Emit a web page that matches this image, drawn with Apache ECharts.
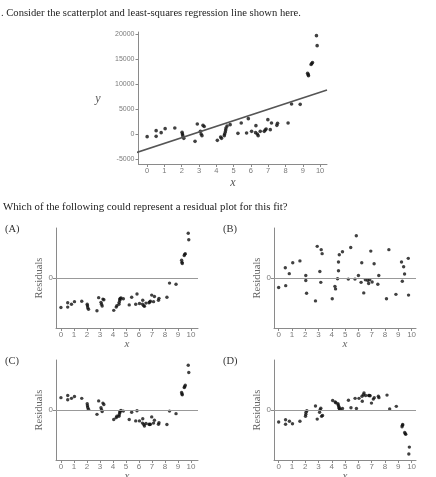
<!DOCTYPE html>
<html>
<head>
<meta charset="utf-8">
<script src="https://cdn.jsdelivr.net/npm/echarts@6/dist/echarts.min.js"></script>
<style>
html, body { margin: 0; padding: 0; background: #fff; }
#chart { width: 436px; height: 477px; }
</style>
</head>
<body>
<div id="chart"></div>
<script>
var titleLine = '. Consider the scatterplot and least-squares regression line shown here.';
var questionLine = 'Which of the following could represent a residual plot for this fit?';
var panelNames = ['(A)', '(B)', '(C)', '(D)'];

var xTicks = [0, 1, 2, 3, 4, 5, 6, 7, 8, 9, 10];
var yTicks = [-5000, 0, 5000, 10000, 15000, 20000];

// scatterplot data, also the x of residual plots A, C, D
var xValues = [0, 0.52, 0.52, 0.81, 1.04, 1.6, 2.02, 2.04, 2.06, 2.12, 2.77, 2.9, 3.08, 3.12, 3.17, 3.23, 3.3,
    4.06, 4.25, 4.3, 4.46, 4.48, 4.52, 4.54, 4.56, 4.62, 4.8, 5.25, 5.44, 5.75, 5.85, 6.04, 6.27, 6.29, 6.37,
    6.42, 6.54, 6.77, 6.83, 6.88, 6.98, 7.12, 7.19, 7.5, 7.54, 8.15, 8.35, 8.85, 9.28, 9.31, 9.33, 9.48, 9.52,
    9.56, 9.79, 9.83];
var yValues = [-530, 670, -470, 270, 1070, 1200, 330, 0, -330, -870, -1470, 2000, 530, 0, -330, 1730, 1500,
    -1270, -600, -870, -330, 0, 400, 800, 1200, 1600, 1870, 130, 2200, 200, 3070, 530, 270, 1670, 0,
    -330, 530, 530, 800, 1000, 2870, 870, 2200, 1730, 2130, 2200, 6000, 5930, 12130, 11870, 11670, 13900, 14100,
    14300, 19670, 17670];

var lineIntercept = -3000;
var lineSlope = 1135;
var lineRange = [-0.9, 10.4];

var residA = [-8100, -6800, -8000, -7200, -6500, -6400, -7200, -7600, -8200, -8600, -9000, -5400, -6700, -7200,
    -7700, -5800, -6000, -8900, -8000, -7600, -7200, -6700, -6100, -5800, -5600, -5500, -5700, -7400, -5300,
    -7200, -4400, -7000, -7200, -6100, -7600, -7800, -6900, -6800, -6600, -6400, -4700, -6500, -5100, -6100,
    -5600, -5300, -1400, -1700, 4900, 4300, 4000, 6200, 6500, 6700, 12300, 10500];
var residC = [3400, 4000, 2800, 3200, 3700, 3200, 1700, 1200, 700, 200, -1200, 2500, 600, 100, -400, 1900, 1500,
    -2600, -2100, -1700, -1700, -1300, -800, -500, -300, -100, -300, -2600, -600, -3000, -200, -3000, -3600,
    -2400, -4000, -4400, -3700, -3900, -4000, -3900, -1900, -3600, -2800, -3900, -3500, -4000, -300, -1000,
    4800, 4400, 4200, 6200, 6400, 6800, 12300, 10300];
var residD = [-3300, -3900, -2700, -3100, -3800, -3100, -1700, -1200, -600, -200, 1100, -2500, -600, 100, 500,
    -1700, -1500, 2600, 2200, 2000, 1700, 1400, 1000, 600, 400, 200, 400, 2700, 600, 3200, 400, 3200, 3800,
    2400, 4200, 4700, 4000, 4000, 4000, 3900, 1900, 3000, 3400, 3800, 3400, 4100, 300, 1000, -4600, -4200,
    -4000, -6200, -6500, -6700, -12100, -10200];

var xB = [0, 0.5, 0.53, 0.8, 1.06, 1.6, 2.04, 2.04, 2.1, 2.77, 2.9, 3.1, 3.17, 3.2, 3.27, 4.03, 4.23, 4.28,
    4.43, 4.5, 4.5, 4.56, 4.8, 5.24, 5.42, 5.74, 5.84, 6.0, 6.2, 6.25, 6.4, 6.52, 6.7, 6.77, 6.85, 6.93, 7.03,
    7.18, 7.46, 7.53, 8.11, 8.29, 8.82, 9.24, 9.3, 9.4, 9.47, 9.75, 9.77];
var residB = [-2600, 2800, -2100, 1200, 4200, 4700, 700, -700, -4200, -6300, 8700, 1800, -1200, 7800, 6700,
    -5700, -2300, -3000, -200, 2000, 4400, 6400, 7200, -300, 8400, -300, 11600, 700, -1200, 4200, -4100, -500,
    -700, -1500, -500, 7400, -1100, 3900, -1700, 700, -5700, 7800, -4500, 4400, -900, 3100, 1100, 5400, -4700];

var serif = '"Liberation Serif", "DejaVu Serif", serif';
var sans = '"Liberation Sans", Arial, sans-serif';
var axisGray = '#8a8a8a';
var labelGray = '#7a7a7a';

function pairs(xs, ys) {
    return xs.map(function(x, i) { return [x, ys[i]]; });
}

function plain(v) {
    return String(v);
}

var lineData = lineRange.map(function(x) { return [x, lineIntercept + lineSlope * x]; });

// one residual panel: grid position and x range
var panels = [
    {left: 56, top: 228, xmin: -0.38, xmax: 10.54, x: xValues, r: residA},
    {left: 274, top: 228, xmin: -0.35, xmax: 10.33, x: xB, r: residB},
    {left: 56, top: 360, xmin: -0.38, xmax: 10.54, x: xValues, r: residC},
    {left: 274, top: 360, xmin: -0.35, xmax: 10.33, x: xValues, r: residD}
];

var option = {
    animation: false,
    grid: [{left: 138.5, top: 32, width: 188.5, height: 132}],
    xAxis: [{
        type: 'value', gridIndex: 0, min: -0.5, max: 10.4,
        axisLine: {onZero: false, lineStyle: {color: axisGray}},
        axisTick: {customValues: xTicks, length: 3, lineStyle: {color: axisGray}},
        axisLabel: {customValues: xTicks, fontSize: 7.5, color: labelGray, fontFamily: sans, margin: 3},
        splitLine: {show: false}
    }],
    yAxis: [{
        type: 'value', gridIndex: 0, min: -6000, max: 20400,
        axisLine: {show: true, onZero: false, lineStyle: {color: axisGray}},
        axisTick: {show: true, customValues: yTicks, length: 3, lineStyle: {color: axisGray}},
        axisLabel: {customValues: yTicks, formatter: plain, fontSize: 7, color: labelGray, fontFamily: sans, margin: 4},
        splitLine: {show: false}
    }],
    series: [{
        type: 'scatter', xAxisIndex: 0, yAxisIndex: 0,
        symbolSize: 3.6,
        itemStyle: {color: '#111'},
        data: pairs(xValues, yValues)
    }, {
        type: 'line', xAxisIndex: 0, yAxisIndex: 0,
        symbol: 'none', clip: false,
        lineStyle: {color: '#555', width: 1.6},
        data: lineData
    }],
    graphic: []
};

panels.forEach(function(p, idx) {
    var gi = idx + 1;
    option.grid.push({left: p.left, top: p.top, width: 142, height: 100});
    option.xAxis.push({
        type: 'value', gridIndex: gi, min: p.xmin, max: p.xmax,
        axisLine: {onZero: false, lineStyle: {color: axisGray}},
        axisTick: {customValues: xTicks, length: 3, lineStyle: {color: axisGray}},
        axisLabel: {customValues: xTicks, fontSize: 8, color: labelGray, fontFamily: sans, margin: 3},
        splitLine: {show: false}
    });
    option.yAxis.push({
        type: 'value', gridIndex: gi, min: -13750, max: 13750,
        axisLine: {show: true, onZero: false, lineStyle: {color: axisGray}},
        axisTick: {show: true, customValues: [0], length: 3, lineStyle: {color: axisGray}},
        axisLabel: {customValues: [0], fontSize: 8, color: labelGray, fontFamily: sans, margin: 3},
        splitLine: {show: false}
    });
    option.series.push({
        type: 'scatter', xAxisIndex: gi, yAxisIndex: gi,
        symbolSize: 3.4,
        itemStyle: {color: '#111'},
        data: pairs(p.x, p.r),
        markLine: {
            silent: true, symbol: 'none', label: {show: false},
            lineStyle: {color: '#999', width: 1, type: 'solid'},
            data: [{yAxis: 0}]
        }
    });

    option.graphic.push({
        type: 'text', left: p.left - 51, top: p.top - 4,
        style: {text: panelNames[idx], font: '10.5px ' + serif, fill: '#333'}
    }, {
        type: 'text', x: p.left - 17, y: p.top + 50, rotation: Math.PI / 2,
        style: {text: 'Residuals', font: '10.5px ' + serif, fill: '#666', textAlign: 'center', textVerticalAlign: 'middle'}
    }, {
        type: 'text', x: p.left + 71, y: p.top + 116,
        style: {text: 'x', font: 'italic 11px ' + serif, fill: '#666', textAlign: 'center', textVerticalAlign: 'middle'}
    });
});

option.graphic.push({
    type: 'text', x: 1, y: 13,
    style: {text: titleLine, font: '10.6px ' + serif, fill: '#222', textVerticalAlign: 'middle'}
}, {
    type: 'text', x: 3, y: 207,
    style: {text: questionLine, font: '10.8px ' + serif, fill: '#222', textVerticalAlign: 'middle'}
}, {
    type: 'text', x: 98, y: 99,
    style: {text: 'y', font: 'italic 12px ' + serif, fill: '#555', textAlign: 'center', textVerticalAlign: 'middle'}
}, {
    type: 'text', x: 233, y: 183,
    style: {text: 'x', font: 'italic 12px ' + serif, fill: '#555', textAlign: 'center', textVerticalAlign: 'middle'}
});

var mychart = echarts.init(document.getElementById('chart'));
mychart.setOption(option);
</script>
</body>
</html>
